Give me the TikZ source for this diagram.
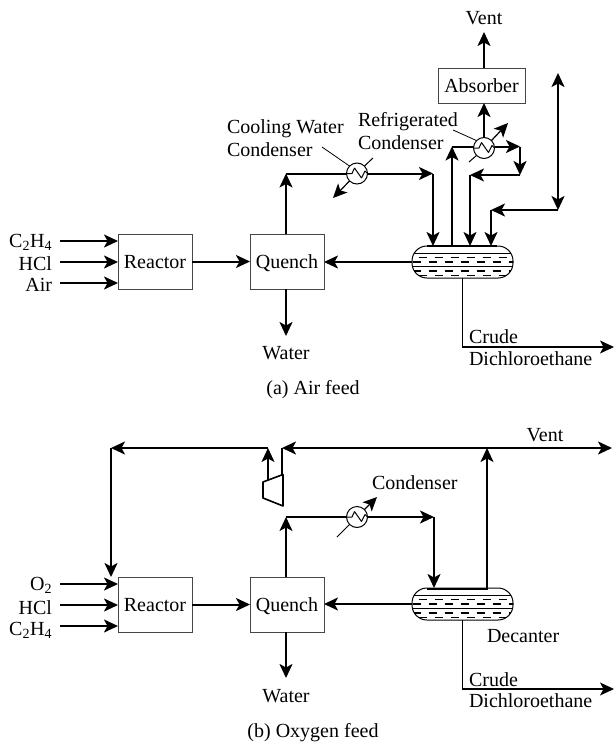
\documentclass[tikz,border=0pt]{standalone}
\usepackage{fontspec}
\setmainfont{Liberation Serif}
\usetikzlibrary{arrows.meta,calc,positioning}
\definecolor{BoxGray}{RGB}{70,70,70}
\tikzset{
  unitbox/.style={draw=BoxGray,line width=1pt,fill=white,minimum width=74pt,minimum height=55pt,inner sep=0pt,outer sep=0pt,text height=17pt,text depth=4pt},
  drumbox/.style={draw=black,line width=1pt,rounded corners=15pt,minimum width=101pt,minimum height=32pt,inner sep=0pt,outer sep=0pt},
  hxcircle/.style={circle,draw=black,line width=1pt,fill=white,minimum size=21pt,inner sep=0pt,outer sep=0pt},
  flow/.style={->,line width=2pt},
  pipe/.style={line width=2pt},
  thinflow/.style={->,line width=1.2pt},
  thinpipe/.style={line width=1pt},
  leader/.style={line width=0.8pt},
  lab/.style={inner sep=0pt,outer sep=0pt,anchor=base west},
  labr/.style={inner sep=0pt,outer sep=0pt,anchor=base east},
  labc/.style={inner sep=0pt,outer sep=0pt,anchor=base}
}
% drum contents: name of the node, then its centre
\newcommand{\drumfill}[3]{%
  \begin{scope}
    \clip[rounded corners=15pt] (#2-50.5,#3-16) rectangle (#2+50.5,#3+16);
    \foreach \yy in {-8.5,4.5}{\draw[line width=1.8pt] (#2-51,#3+\yy)--(#2+51,#3+\yy);}
    \foreach \yy/\off in {-4.5/0,-0.3/-6,9/-6,13.5/0}{
      \foreach \k in {0,...,6}{\draw[line width=1.8pt] (#2-44+\off+16*\k,#3+\yy)--++(8,0);}}
  \end{scope}
  \node[drumbox] (#1) at (#2,#3) {};}
% zigzag inside an exchanger
\newcommand{\hxzig}[1]{\draw[line width=1pt,line join=bevel] (#1.west)--++(5.5,0)--++(2.5,-5.5)--++(7,10)--++(3.5,-7)--(#1.east);}
\begin{document}
\begin{tikzpicture}[x=1pt,y=-1pt,>={Stealth[length=14pt,width=13pt,inset=3.5pt]},font=\fontsize{20}{22}\selectfont]
  \useasboundingbox (0,0) rectangle (614,742);
  % (a) air feed
  \node[unitbox] (reactorA) at (155,261.5) {Reactor};
  \node[unitbox] (quenchA) at (287,261.5) {Quench};
  \node[unitbox,minimum width=87pt,minimum height=35pt] (absorber) at (481.5,85.5) {Absorber};
  \drumfill{drumA}{462.5}{262}
  \node[hxcircle] (hxA) at (357,173.5) {};
  \node[hxcircle] (hxB) at (484,148) {};
  \hxzig{hxA}
  \hxzig{hxB}
  \node[labr] (ethA) at (52,247) {C\textsubscript{2}H\textsubscript{4}};
  \node[labr] (hclA) at (52,270) {HCl};
  \node[labr] (airA) at (52,291) {Air};
  \node[labc] (ventA) at (484,24) {Vent};
  \node[labc] (waterA) at (286,359) {Water};
  \node[lab] (coolA) at (227,133) {Cooling Water};
  \node[lab] (coolB) at (227,156) {Condenser};
  \node[lab] (refrA) at (358,126) {Refrigerated};
  \node[lab] (refrB) at (358,149) {Condenser};
  \node[lab] (crudeA) at (469,343) {Crude};
  \node[lab] (dichA) at (469,365) {Dichloroethane};
  \node[labc] (capA) at (313,394) {(a) Air feed};
  \coordinate (feedA) at (60,241);
  \coordinate (feedB) at (60,262);
  \coordinate (feedC) at (60,283);
  \coordinate (cornerA) at (286,173.5);
  \coordinate (turnA) at (433,173.5);
  \coordinate (cornerB) at (452,146.5);
  \coordinate (turnB) at (520,146.5);
  \coordinate (turnC) at (520,175);
  \coordinate (cornerC) at (470,175);
  \coordinate (topD) at (558,73);
  \coordinate (turnD) at (558,210);
  \coordinate (cornerD) at (491,210);
  \coordinate (outA) at (462,347);
  \draw[flow] (feedA)--(reactorA.west |- feedA);
  \draw[flow] (feedB)--(reactorA.west |- feedB);
  \draw[flow] (feedC)--(reactorA.west |- feedC);
  \draw[flow] (reactorA)--(quenchA);
  \draw[flow] (drumA.west)--(quenchA.east |- drumA.west);
  \draw[flow] (quenchA.north -| cornerA)--(cornerA);
  \draw[pipe] (cornerA)--(hxA.west);
  \draw[flow] (hxA.east)--(turnA);
  \draw[flow] (turnA)--(turnA |- drumA.north);
  \draw[flow] (quenchA.south -| waterA)--++(0,47);
  \draw[flow] (cornerB |- drumA.north)--(cornerB);
  \draw[pipe] (cornerB)--(hxB.west |- cornerB);
  \draw[flow] (hxB.east |- cornerB)--(turnB);
  \draw[flow] (turnB)--(turnC);
  \draw[flow,line width=1.4pt] (turnC)--(cornerC);
  \draw[flow] (cornerC)--(cornerC |- drumA.north);
  \draw[flow] (hxB.north)--(absorber.south -| hxB);
  \draw[flow] (absorber.north -| hxB)--++(0,-36);
  \draw[<->,line width=2pt] (topD)--(turnD);
  \draw[flow] (turnD)--(cornerD);
  \draw[flow] (cornerD)--(cornerD |- drumA.north);
  \draw[pipe] (427,246)--(497,246);
  \draw[thinpipe] (drumA.south -| outA)--(outA);
  \draw[thinflow] (outA)--++(152,0);
  \draw[thinpipe] (hxA.north east)--(373,158);
  \draw[thinflow] (hxA.south west)--(333,198);
  \draw[leader] (322,147)--(hxA.north west);
  \draw[thinpipe] (hxB.south west)--(469,162);
  \draw[thinflow] (hxB.north east)--(508,123);
  \draw[leader] (453,130)--(hxB.north west);
  % (b) oxygen feed
  \node[unitbox] (reactorB) at (155,604.5) {Reactor};
  \node[unitbox] (quenchB) at (287,604.5) {Quench};
  \drumfill{drumB}{462.5}{604}
  \node[hxcircle] (hxC) at (357,517) {};
  \hxzig{hxC}
  \node[labr] (oxyB) at (52,590) {O\textsubscript{2}};
  \node[labr] (hclB) at (52,614) {HCl};
  \node[labr] (ethB) at (52,635) {C\textsubscript{2}H\textsubscript{4}};
  \node[labc] (ventB) at (545,441) {Vent};
  \node[lab] (condC) at (372,489) {Condenser};
  \node[lab] (decant) at (487,642) {Decanter};
  \node[labc] (waterB) at (286,702) {Water};
  \node[lab] (crudeB) at (469,686) {Crude};
  \node[lab] (dichB) at (469,707) {Dichloroethane};
  \node[labc] (capB) at (313,737) {(b) Oxygen feed};
  \coordinate (feedD) at (60,584);
  \coordinate (feedE) at (60,605);
  \coordinate (feedF) at (60,626);
  \coordinate (comprIn) at (282,475);
  \coordinate (comprOut) at (268,480);
  \coordinate (recyA) at (268,448);
  \coordinate (recyB) at (111,448);
  \coordinate (ventC) at (487,448);
  \coordinate (ventD) at (282,448);
  \coordinate (cornerE) at (286,517);
  \coordinate (turnE) at (434,517);
  \coordinate (outB) at (462,689);
  \draw[line width=1.6pt,line join=round] (263,482)--(283,474.5)--(283,506)--(263,498)--cycle;
  \draw[flow] (feedD)--(reactorB.west |- feedD);
  \draw[flow] (feedE)--(reactorB.west |- feedE);
  \draw[flow] (feedF)--(reactorB.west |- feedF);
  \draw[flow] (reactorB)--(quenchB);
  \draw[flow] (drumB.west)--(quenchB.east |- drumB.west);
  \draw[flow] (quenchB.north -| cornerE)--(cornerE);
  \draw[pipe] (cornerE)--(hxC.west);
  \draw[flow] (hxC.east)--(turnE);
  \draw[flow] (turnE)--(turnE |- drumB.north);
  \draw[flow] (quenchB.south -| waterB)--++(0,46);
  \draw[pipe] (427,588.5)--(488,588.5);
  \draw[flow] (ventC |- drumB.north)--(ventC);
  \draw[flow] (ventC)--(ventD);
  \draw[flow] (ventC)--(612,448);
  \draw[pipe] (ventD)--(comprIn);
  \draw[flow] (comprOut)--(recyA);
  \draw[flow] (recyA)--(recyB);
  \draw[flow] (recyB)--(recyB |- reactorB.north);
  \draw[thinpipe] (drumB.south -| outB)--(outB);
  \draw[thinflow] (outB)--++(152,0);
  \draw[thinpipe] (hxC.south west)--(337,537);
  \draw[thinflow] (hxC.north east)--(377,497);
\end{tikzpicture}
\end{document}
